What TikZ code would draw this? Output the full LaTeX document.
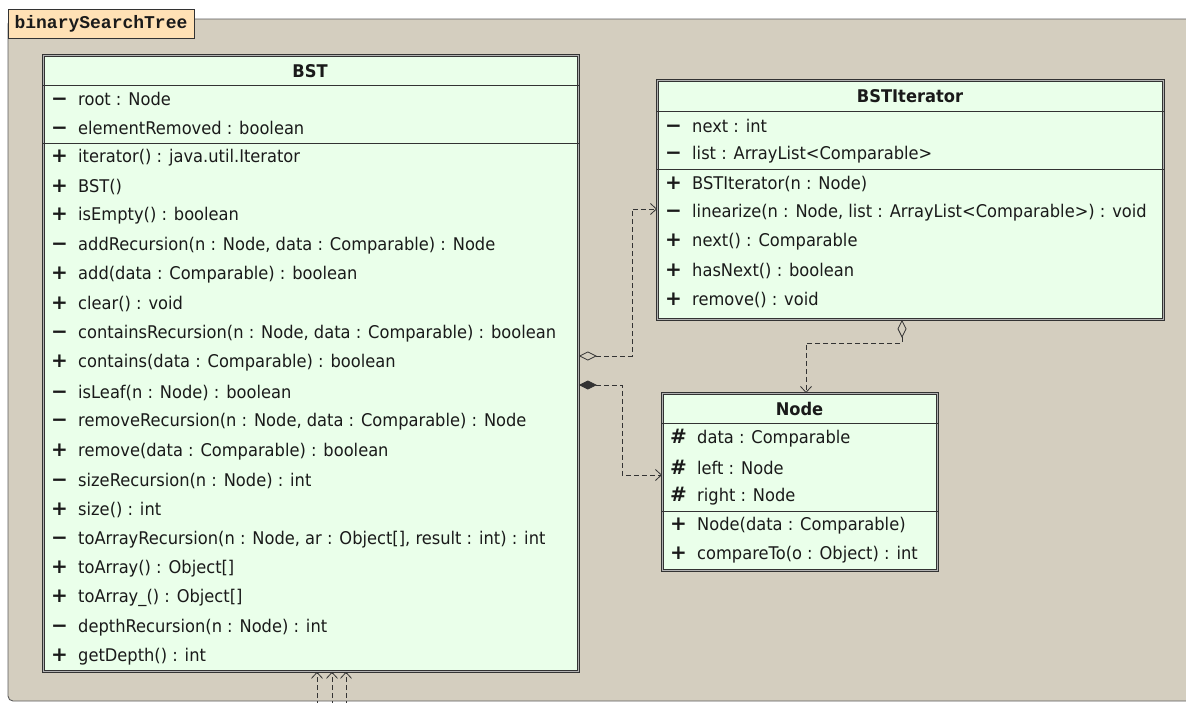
\documentclass[tikz,border=0pt]{standalone}
\usepackage{fontspec}
\setmainfont{DejaVu Sans}[FakeStretch=0.93]
\newfontfamily\symfont{DejaVu Sans Bold}
\newfontfamily\pkgfont{Liberation Mono Bold}
\usetikzlibrary{arrows.meta,calc}
\definecolor{pkgbg}{HTML}{D4CEBF}
\definecolor{tabbg}{HTML}{FFE1B5}
\definecolor{clsbg}{HTML}{EAFFEA}
\definecolor{edgec}{HTML}{333333}
\definecolor{txt}{HTML}{1A1A1A}
\newcommand\vsym[1]{\makebox[27pt][l]{\symfont\fontsize{20}{20}\selectfont #1}}
\newcommand\vpriv{\vsym{−}}
\newcommand\vpub{\vsym{+}}
\newcommand\vprot{\vsym{\#}}
\begin{document}
\begin{tikzpicture}[x=1pt,y=-1pt,
  clsbox/.style={draw=edgec, line width=0.8pt, double=gray!60, double distance=0.9pt, fill=clsbg, anchor=north west, inner sep=0pt, rectangle},
  row/.style={anchor=west, inner sep=0pt, text=txt, font=\fontsize{17.5}{19}\selectfont},
  ttl/.style={inner sep=0pt, text=txt, font=\bfseries\fontsize{17.5}{19}\selectfont},
  sepl/.style={draw=edgec, line width=0.9pt},
  dep/.style={draw=edgec, line width=0.8pt, dash pattern=on 5pt off 3pt},
  barb/.style={-{Straight Barb[length=6pt,width=11pt,line width=0.8pt]}},
  aggr/.style={{Diamond[open,length=18pt,width=9pt,line width=0.8pt]}-{Straight Barb[length=6pt,width=11pt,line width=0.8pt]}},
  comp/.style={{Diamond[length=18pt,width=9pt]}-{Straight Barb[length=6pt,width=11pt,line width=0.8pt]}}
]
\useasboundingbox (0,0) rectangle (1186,702);
\begin{scope}
\clip (0,0) rectangle (1186,702);
% package
\draw[fill=pkgbg, draw=edgec!80, line width=0.9pt, rounded corners=5pt] (8,19) rectangle (1200,701);
\node[draw=edgec, line width=0.9pt, fill=tabbg, anchor=north west, minimum width=186pt, minimum height=29pt, inner sep=0pt] (tab) at (8,9) {};
\node[inner sep=0pt, text=txt, font=\pkgfont\fontsize{18}{20}\selectfont] (tabtxt) at (101,24) {binarySearchTree};

% BST class
\node[clsbox, minimum width=535pt, minimum height=616pt] (bst) at (43,55) {};
\node[ttl] (bstt) at (310,71) {BST};
\draw[sepl] (bst.west |- 0,85) -- (bst.east |- 0,85);
\draw[sepl] (bst.west |- 0,143) -- (bst.east |- 0,143);
\node[row] (b1) at (51,98.5) {\vpriv root : Node};
\node[row] (b2) at (51,128) {\vpriv elementRemoved : boolean};
\foreach \i/\v/\t in {0/\vpub/{iterator() : java.util.Iterator},
  1/\vpub/{BST()},
  2/\vpub/{isEmpty() : boolean},
  3/\vpriv/{addRecursion(n : Node, data : Comparable) : Node},
  4/\vpub/{add(data : Comparable) : boolean},
  5/\vpub/{clear() : void},
  6/\vpriv/{containsRecursion(n : Node, data : Comparable) : boolean},
  7/\vpub/{contains(data : Comparable) : boolean},
  8/\vpriv/{isLeaf(n : Node) : boolean},
  9/\vpriv/{removeRecursion(n : Node, data : Comparable) : Node},
  10/\vpub/{remove(data : Comparable) : boolean},
  11/\vpriv/{sizeRecursion(n : Node) : int},
  12/\vpub/{size() : int},
  13/\vpriv/{toArrayRecursion(n : Node, ar : Object[], result : int) : int},
  14/\vpub/{toArray() : Object[]},
  15/\vpub/{toArray\_() : Object[]},
  16/\vpriv/{depthRecursion(n : Node) : int},
  17/\vpub/{getDepth() : int}}
  \node[row] (bm\i) at (51,157.3+29.4*\i) {\v\t};

% BSTIterator class
\node[clsbox, minimum width=506pt, minimum height=239pt] (bsti) at (657,80) {};
\node[ttl] (bstit) at (910,96) {BSTIterator};
\draw[sepl] (bsti.west |- 0,111.5) -- (bsti.east |- 0,111.5);
\draw[sepl] (bsti.west |- 0,169.5) -- (bsti.east |- 0,169.5);
\node[row] (i1) at (665,126) {\vpriv next : int};
\node[row] (i2) at (665,155) {\vpriv list : ArrayList<Comparable>};
\node[row] (im0) at (665,184) {\vpub BSTIterator(n : Node)};
\node[row] (im1) at (665,213) {\vpriv linearize(n : Node, list : ArrayList<Comparable>) : void};
\node[row] (im2) at (665,242) {\vpub next() : Comparable};
\node[row] (im3) at (665,271) {\vpub hasNext() : boolean};
\node[row] (im4) at (665,299.5) {\vpub remove() : void};

% Node class
\node[clsbox, minimum width=275pt, minimum height=177pt] (nd) at (662,393) {};
\node[ttl] (ndt) at (799.5,409) {Node};
\draw[sepl] (nd.west |- 0,423.5) -- (nd.east |- 0,423.5);
\draw[sepl] (nd.west |- 0,511) -- (nd.east |- 0,511);
\node[row] (n1) at (670,438.5) {\vprot data : Comparable};
\node[row] (n2) at (670,467.5) {\vprot left : Node};
\node[row] (n3) at (670,496.5) {\vprot right : Node};
\node[row] (nm0) at (670,525.5) {\vpub Node(data : Comparable)};
\node[row] (nm1) at (670,554.5) {\vpub compareTo(o : Object) : int};

% connectors
\draw[dep, aggr] (bst.east |- 0,356) -- (632,356) |- (bsti.west |- 0,209);
\draw[dep, comp] (bst.east |- 0,385) -- (622,385) |- (nd.west |- 0,475);
\draw[dep, aggr] (bsti.south -| 902,0) -- (902,343) -| (nd.north -| 806,0);
\coordinate (u1) at (317,706);
\coordinate (u2) at (332,706);
\coordinate (u3) at (346,706);
\draw[dep, barb] (u1) -- (bst.south -| u1);
\draw[dep, barb] (u2) -- (bst.south -| u2);
\draw[dep, barb] (u3) -- (bst.south -| u3);
\end{scope}
\end{tikzpicture}
\end{document}
